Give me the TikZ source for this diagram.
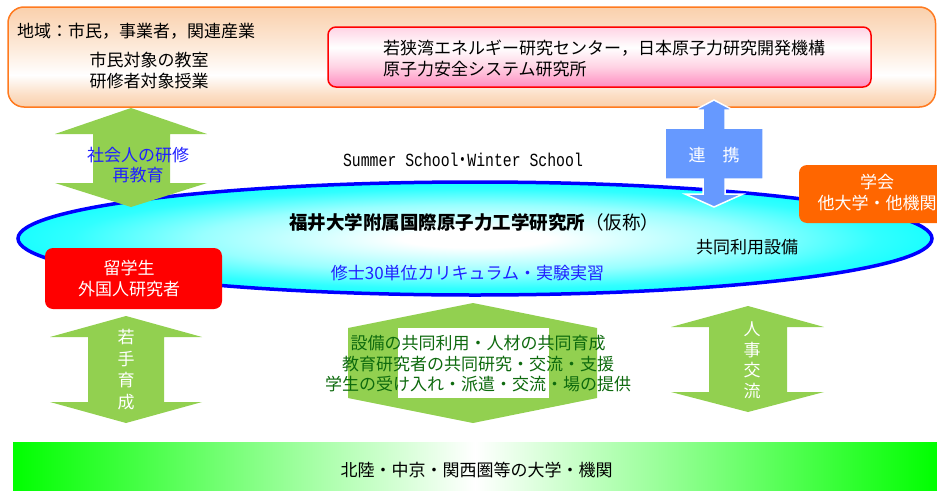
\documentclass[tikz,border=0pt]{standalone}
\usepackage{fontspec}
\usepackage{graphicx}
\setmainfont{Noto Sans CJK JP}
\newfontfamily\monof{Liberation Mono}
\usetikzlibrary{shapes.geometric}
\definecolor{peach}{HTML}{FAD0AC}
\definecolor{orangeline}{HTML}{FF7A1F}
\definecolor{pinkA}{HTML}{FF8CC0}
\definecolor{pinkB}{HTML}{FFD3E4}
\definecolor{lgreen}{HTML}{92D050}
\definecolor{lblue}{HTML}{6699FF}
\definecolor{dgreen}{HTML}{0E6A0E}
\definecolor{txtblue}{HTML}{2020FF}
\definecolor{orangebox}{HTML}{FF6600}
\definecolor{cyanE}{HTML}{1AFFFF}
\definecolor{barGreen}{HTML}{00FF00}
\pgfdeclareverticalshading{topshade}{100bp}{color(0bp)=(peach); color(25bp)=(peach); color(31bp)=(peach!70!white); color(41bp)=(white); color(55bp)=(peach!45!white); color(75bp)=(peach); color(100bp)=(peach)}
\pgfdeclareverticalshading{pinkshade}{100bp}{color(0bp)=(pinkA); color(25bp)=(pinkA); color(42bp)=(pinkB); color(58bp)=(white); color(75bp)=(pinkB); color(100bp)=(pinkB)}
\pgfdeclareradialshading{ellshade}{\pgfpoint{0bp}{0bp}}{color(0bp)=(white); color(4bp)=(white); color(15bp)=(cyanE!45!white); color(22bp)=(cyanE!90!white); color(25bp)=(cyanE); color(50bp)=(cyanE)}
\pgfdeclarehorizontalshading{barshade}{100bp}{color(0bp)=(barGreen); color(25bp)=(barGreen); color(50bp)=(white); color(75bp)=(barGreen); color(100bp)=(barGreen)}
\newcommand\jpsize{\fontsize{17pt}{20.5pt}\selectfont}
\tikzset{
  txt/.style={inner sep=0pt, align=center, font=\jpsize},
  greenarrow/.style={fill=lgreen, draw=none},
  roundbox/.style={rounded corners=8pt, inner sep=0pt}
}
\begin{document}
\begin{tikzpicture}[x=1pt,y=-1pt]
\useasboundingbox (0,0) rectangle (937,490);
\clip (0,0) rectangle (937,490);

% top region box
\path[draw=orangeline, line width=1.5pt, rounded corners=16pt, shading=topshade] (8,7) rectangle (935.5,107);
\node[txt, anchor=west] (region) at (17,31) {地域：市民，事業者，関連産業};
\node[txt] (classes) at (149,70.5) {市民対象の教室\\研修者対象授業};

% research labs box
\node[roundbox, draw=red, line width=1.5pt, shading=pinkshade, minimum width=543pt, minimum height=60pt] (labbox) at (599.5,57) {};
\node[txt, anchor=west, align=left] (labtext) at (383,58.5) {若狭湾エネルギー研究センター，日本原子力研究開発機構\\原子力安全システム研究所};

% institute ellipse
\node[ellipse, draw=blue, line width=3.5pt, shading=ellshade, minimum width=914pt, minimum height=113pt, inner sep=0pt] (inst) at (475,238.5) {};
\node[txt] (summer) at (463,160) {\scalebox{0.8}[1]{\monof\fontsize{18.5pt}{20pt}\selectfont Summer School\makebox[11.1pt][c]{\rmfamily ・}Winter School}};
\node[txt, font=\fontsize{18.5pt}{22pt}\selectfont] (title) at (474,222) {\bfseries 福井大学附属国際原子力工学研究所\mdseries （仮称）};
\node[txt] (equip) at (747,247) {共同利用設備};
\node[txt, text=txtblue] (course) at (467.5,273) {修士30単位カリキュラム・実験実習};

% top-left green double arrow
\path[greenarrow] (131,108) -- (207,134) -- (170,134) -- (170,183) -- (207,183) -- (131,207) -- (55,183) -- (93,183) -- (93,134) -- (55,134) -- cycle;
\node[txt, text=txtblue] (reedu) at (138,165) {社会人の研修\\再教育};

% blue cooperation arrow
\path[fill=lblue, draw=white, line width=1.5pt, line join=miter] (714,100) -- (733,110) -- (725,110) -- (725,128) -- (763,128) -- (763,179) -- (725,179) -- (725,194) -- (743,194) -- (714,207) -- (685,194) -- (703,194) -- (703,179) -- (665,179) -- (665,128) -- (703,128) -- (703,110) -- (695,110) -- cycle;
\node[txt, text=white] (coop) at (714,155) {連　携};

% societies box
\node[roundbox, fill=orangebox, minimum width=156pt, minimum height=58pt] (socbox) at (877,194) {};
\node[txt, text=white] (soctext) at (877,192.5) {学会\\他大学・他機関};

% international students box
\node[roundbox, fill=red, minimum width=177pt, minimum height=61pt] (intlbox) at (133.5,278.5) {};
\node[txt, text=white] (intltext) at (129,278.5) {留学生\\外国人研究者};

% young researchers arrow
\path[greenarrow] (126,316) -- (202,337) -- (164,337) -- (164,402) -- (202,402) -- (126,423) -- (50,402) -- (88,402) -- (88,337) -- (50,337) -- cycle;
\node[txt, text=white, font=\fontsize{17pt}{21.5pt}\selectfont] (young) at (126,369.5) {若\\手\\育\\成};

% central shared arrow
\path[greenarrow] (473,303) -- (597,328) -- (597,398) -- (473,423) -- (348,398) -- (348,328) -- cycle;
\path[fill=white] (398,328) rectangle (549,398);
\node[txt, text=dgreen] (shared) at (478,364) {設備の共同利用・人材の共同育成\\教育研究者の共同研究・交流・支援\\学生の受け入れ・派遣・交流・場の提供};

% personnel exchange arrow
\path[greenarrow] (748,306) -- (824,327) -- (787,327) -- (787,392) -- (824,392) -- (748,412) -- (671,392) -- (709,392) -- (709,327) -- (671,327) -- cycle;
\node[txt, text=white, font=\fontsize{17pt}{20.5pt}\selectfont] (exch) at (752,360.5) {人\\事\\交\\流};

% bottom universities bar
\path[shading=barshade] (13,442) rectangle (937,490);
\node[txt] (univ) at (476.5,470) {北陸・中京・関西圏等の大学・機関};
\end{tikzpicture}
\end{document}
